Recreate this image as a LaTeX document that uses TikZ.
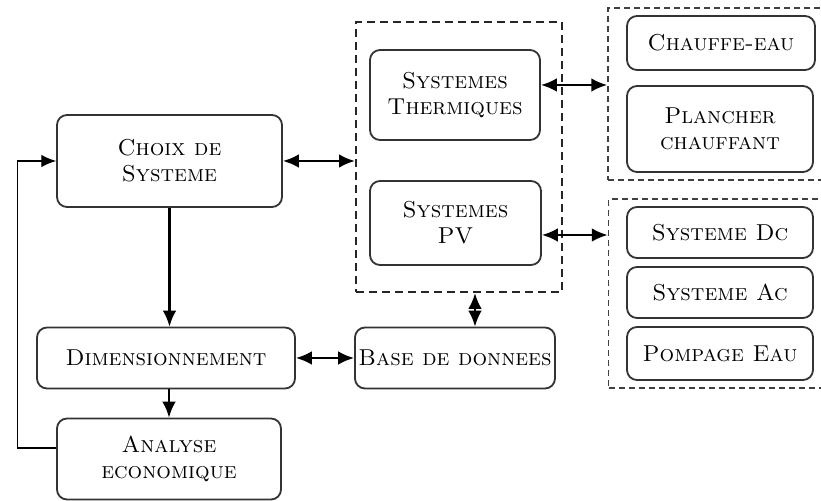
\documentclass[tikz,border=0pt]{standalone}
\usetikzlibrary{arrows.meta,positioning,calc}

\begin{document}
\begin{tikzpicture}[
  x=0.5pt, y=-0.5pt,
  font=\fontsize{11.5}{13}\selectfont,
  every node/.style={inner sep=0pt},
  box/.style={
    draw=black!80, fill=white, rounded corners=5pt,
    align=center, line width=0.9pt,
  },
  grp/.style={draw=black!85, dash pattern=on 4pt off 2.5pt, line width=1pt},
  grpthin/.style={draw=black!75, dash pattern=on 3pt off 2pt, line width=0.75pt},
  flow/.style={-{Latex[length=2.8mm, width=2.4mm]}, line width=1.2pt, draw=black},
  both/.style={{Latex[length=2.8mm, width=2.4mm]}-{Latex[length=2.8mm, width=2.4mm]}, line width=1.2pt, draw=black},
  back/.style={-{Latex[length=2.6mm, width=2.2mm]}, line width=0.6pt, draw=black},
]
\useasboundingbox[fill=white] (0,0) rectangle (821,501);

% ===== GROUPS (dashed) =====
\node[grp, minimum width=103pt, minimum height=135pt] (sysgrp) at (459,157) {};
\node[grpthin, minimum width=110pt, minimum height=86pt] (thgrp) at (718,94) {};
\node[grpthin, minimum width=110pt, minimum height=94.5pt] (pvgrp) at (718.5,293.5) {};

% ===== LEFT COLUMN =====
\node[box, minimum width=112.5pt, minimum height=46pt] (choix) at (169.5,161)
  {\textsc{Choix de}\\\textsc{Systeme}};
\node[box, minimum width=129pt, minimum height=30.5pt] (dim) at (166,358)
  {\textsc{Dimensionnement}};
\node[box, minimum width=112pt, minimum height=40.5pt] (analyse) at (169,459)
  {\textsc{Analyse}\\\textsc{economique}};

% ===== MIDDLE COLUMN =====
\node[box, minimum width=85pt, minimum height=45pt] (therm) at (455,95)
  {\textsc{Systemes}\\\textsc{Thermiques}};
\node[box, minimum width=85.5pt, minimum height=42pt] (pv) at (455.5,223)
  {\textsc{Systemes}\\\textsc{PV}};
\node[box, minimum width=100pt, minimum height=30.5pt] (base) at (455,358)
  {\textsc{Base de donnees}};

% ===== RIGHT COLUMN =====
\node[box, minimum width=94pt, minimum height=27pt] (chauffe) at (721,43)
  {\textsc{Chauffe-eau}};
\node[box, minimum width=93pt, minimum height=43pt] (plancher) at (720,129)
  {\textsc{Plancher}\\\textsc{chauffant}};
\node[box, minimum width=93pt, minimum height=25.5pt] (sysdc) at (720,232.5)
  {\textsc{Systeme Dc}};
\node[box, minimum width=93pt, minimum height=25.5pt] (sysac) at (720,292.5)
  {\textsc{Systeme Ac}};
\node[box, minimum width=93pt, minimum height=26.5pt] (pompage) at (720,353.5)
  {\textsc{Pompage Eau}};

% ===== ARROWS =====
\draw[both] (choix.east) -- (choix.east -| sysgrp.west);
\draw[both] ([yshift=5pt]therm.east) -- ([yshift=5pt]therm.east -| thgrp.west);
\draw[both] ([yshift=-6pt]pv.east) -- ([yshift=-6pt]pv.east -| pvgrp.west);
\draw[flow] (choix.south) -- (choix.south |- dim.north);
\draw[both] (dim.east) -- (base.west);
\draw[both] ([xshift=10pt]base.north) -- ([xshift=10pt]base.north |- sysgrp.south);
\draw[flow] (analyse.north |- dim.south) -- (analyse.north);
\draw[back] ([yshift=5.5pt]analyse.west) -- ++(-39,0) |- (choix.west);

\end{tikzpicture}
\end{document}
